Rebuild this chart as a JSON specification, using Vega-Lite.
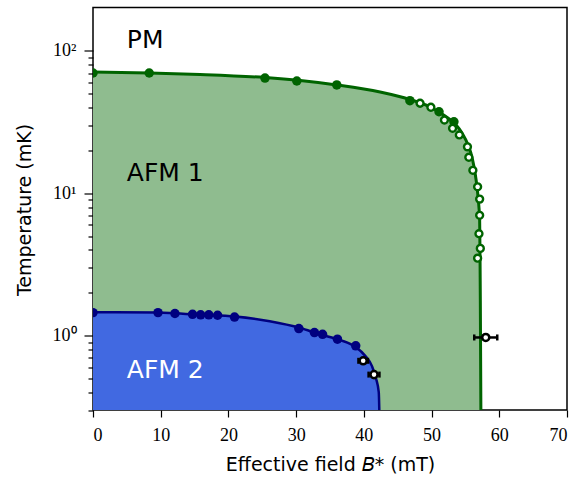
{
  "$schema": "https://vega.github.io/schema/vega-lite/v6.json",
  "width": 474,
  "height": 402.5,
  "autosize": {"type": "none"},
  "padding": {"left": 93, "top": 7.5, "right": 12, "bottom": 69},
  "background": "white",
  "config": {
    "view": {"stroke": "black", "strokeWidth": 1.5},
    "axis": {
      "domain": false, "grid": false,
      "tickColor": "black", "tickWidth": 1.2,
      "labelFont": "Liberation Serif", "labelFontSize": 18, "labelColor": "black",
      "titleFont": "DejaVu Sans", "titleFontSize": 19, "titleFontWeight": "normal", "titleColor": "black"
    }
  },
  "datasets": {
    "green_curve": [
      {"B": 0, "T": 71.1}, {"B": 8.3, "T": 70.0}, {"B": 15.8, "T": 68.4}, {"B": 25.4, "T": 65.1},
      {"B": 30.6, "T": 62.0}, {"B": 36.0, "T": 57.7}, {"B": 42.4, "T": 51.5}, {"B": 46.8, "T": 45.6},
      {"B": 49.8, "T": 40.4}, {"B": 52.0, "T": 34.9}, {"B": 53.5, "T": 30.7}, {"B": 54.5, "T": 26.5},
      {"B": 55.4, "T": 21.8}, {"B": 56.0, "T": 17.7}, {"B": 56.4, "T": 14.1}, {"B": 56.7, "T": 11.2},
      {"B": 56.9, "T": 9.0}, {"B": 57.1, "T": 6.5}, {"B": 57.15, "T": 4.0}, {"B": 57.2, "T": 1.77},
      {"B": 57.3, "T": 0.2}
    ],
    "blue_curve": [
      {"B": 0, "T": 1.46}, {"B": 9.6, "T": 1.45}, {"B": 15.8, "T": 1.40}, {"B": 21.0, "T": 1.36},
      {"B": 26.1, "T": 1.26}, {"B": 30.6, "T": 1.13}, {"B": 33.5, "T": 1.02}, {"B": 36.5, "T": 0.93},
      {"B": 38.8, "T": 0.83}, {"B": 40.2, "T": 0.72}, {"B": 41.2, "T": 0.61}, {"B": 41.8, "T": 0.50},
      {"B": 42.2, "T": 0.40}, {"B": 42.35, "T": 0.2}
    ],
    "green_filled": [
      {"B": 0, "T": 70}, {"B": 8.3, "T": 70}, {"B": 25.4, "T": 64.5}, {"B": 30.1, "T": 61.5},
      {"B": 36.0, "T": 57.7}, {"B": 46.8, "T": 44.7}, {"B": 51.1, "T": 37.4}, {"B": 53.3, "T": 31.8}
    ],
    "green_open": [
      {"B": 48.3, "T": 42.9}, {"B": 49.9, "T": 40.2}, {"B": 51.9, "T": 32.7}, {"B": 53.1, "T": 28.6},
      {"B": 54.1, "T": 25.7}, {"B": 55.3, "T": 21.2}, {"B": 55.5, "T": 17.9}, {"B": 56.1, "T": 14.5},
      {"B": 56.8, "T": 11.1}, {"B": 57.1, "T": 9.1}, {"B": 57.1, "T": 7.0}, {"B": 57.0, "T": 5.2},
      {"B": 57.2, "T": 4.1}, {"B": 56.8, "T": 3.5}
    ],
    "blue_filled": [
      {"B": 0, "T": 1.45}, {"B": 9.6, "T": 1.45}, {"B": 12.1, "T": 1.43}, {"B": 14.7, "T": 1.41},
      {"B": 15.9, "T": 1.40}, {"B": 17.1, "T": 1.40}, {"B": 18.4, "T": 1.39}, {"B": 20.9, "T": 1.35},
      {"B": 30.4, "T": 1.12}, {"B": 32.7, "T": 1.05}, {"B": 33.9, "T": 1.02}, {"B": 36.1, "T": 0.944},
      {"B": 38.8, "T": 0.847}
    ],
    "err_pts": [
      {"B": 39.9, "lo": 39.2, "hi": 40.6, "T": 0.665},
      {"B": 41.5, "lo": 40.7, "hi": 42.3, "T": 0.532},
      {"B": 58.0, "lo": 56.3, "hi": 59.7, "T": 0.97}
    ],
    "labels": [
      {"B": 5.0, "T": 119, "label": "PM"},
      {"B": 5.0, "T": 13.9, "label": "AFM 1"},
      {"B": 5.0, "T": 0.572, "label": "AFM 2"}
    ]
  },
  "layer": [
    {
      "data": {"name": "green_curve"},
      "mark": {"type": "area", "color": "#8fbc8f", "interpolate": "monotone", "clip": true},
      "encoding": {
        "x": {"field": "B", "type": "quantitative",
          "scale": {"domain": [0, 70], "nice": false},
          "axis": {"values": [0, 10, 20, 30, 40, 50, 60, 70], "tickSize": 7, "labelPadding": 9,
            "title": "Effective field 𝐵* (mT)", "titleY": 45}},
        "y": {"field": "T", "type": "quantitative",
          "scale": {"type": "log", "domain": [0.3, 202], "nice": false},
          "axis": {
            "values": [0.3, 0.4, 0.5, 0.6, 0.7, 0.8, 0.9, 1, 2, 3, 4, 5, 6, 7, 8, 9, 10, 20, 30, 40, 50, 60, 70, 80, 90, 100],
            "labelExpr": "datum.value == 1 ? '10⁰' : datum.value == 10 ? '10¹' : datum.value == 100 ? '10²' : ''",
            "tickSize": {"condition": {"test": "datum.value == 1 || datum.value == 10 || datum.value == 100", "value": 9}, "value": 5},
            "labelPadding": 8,
            "title": "Temperature (mK)", "titleX": -59, "titleY": 202}},
        "y2": {"datum": 0.1}
      }
    },
    {
      "data": {"name": "blue_curve"},
      "mark": {"type": "area", "color": "#4169e1", "interpolate": "monotone", "clip": true},
      "encoding": {
        "x": {"field": "B", "type": "quantitative"},
        "y": {"field": "T", "type": "quantitative"},
        "y2": {"datum": 0.1}
      }
    },
    {
      "data": {"name": "green_curve"},
      "mark": {"type": "line", "color": "#006400", "strokeWidth": 3, "interpolate": "monotone", "clip": true},
      "encoding": {
        "x": {"field": "B", "type": "quantitative"},
        "y": {"field": "T", "type": "quantitative"}
      }
    },
    {
      "data": {"name": "blue_curve"},
      "mark": {"type": "line", "color": "#000080", "strokeWidth": 2.5, "interpolate": "monotone", "clip": true},
      "encoding": {
        "x": {"field": "B", "type": "quantitative"},
        "y": {"field": "T", "type": "quantitative"}
      }
    },
    {
      "data": {"name": "green_filled"},
      "mark": {"type": "point", "filled": true, "color": "#006400", "size": 90, "opacity": 1, "clip": true},
      "encoding": {
        "x": {"field": "B", "type": "quantitative"},
        "y": {"field": "T", "type": "quantitative"}
      }
    },
    {
      "data": {"name": "green_open"},
      "mark": {"type": "point", "filled": false, "fill": "white", "fillOpacity": 1, "stroke": "#006400", "strokeWidth": 2.4, "size": 48, "opacity": 1},
      "encoding": {
        "x": {"field": "B", "type": "quantitative"},
        "y": {"field": "T", "type": "quantitative"}
      }
    },
    {
      "data": {"name": "blue_filled"},
      "mark": {"type": "point", "filled": true, "color": "#000080", "size": 90, "opacity": 1, "clip": true},
      "encoding": {
        "x": {"field": "B", "type": "quantitative"},
        "y": {"field": "T", "type": "quantitative"}
      }
    },
    {
      "data": {"name": "err_pts"},
      "mark": {"type": "rule", "color": "black", "strokeWidth": 2.5},
      "encoding": {
        "x": {"field": "lo", "type": "quantitative"},
        "x2": {"field": "hi"},
        "y": {"field": "T", "type": "quantitative"}
      }
    },
    {
      "data": {"name": "err_pts"},
      "mark": {"type": "tick", "orient": "vertical", "color": "black", "size": 6, "thickness": 2.5, "opacity": 1},
      "encoding": {
        "x": {"field": "lo", "type": "quantitative"},
        "y": {"field": "T", "type": "quantitative"}
      }
    },
    {
      "data": {"name": "err_pts"},
      "mark": {"type": "tick", "orient": "vertical", "color": "black", "size": 6, "thickness": 2.5, "opacity": 1},
      "encoding": {
        "x": {"field": "hi", "type": "quantitative"},
        "y": {"field": "T", "type": "quantitative"}
      }
    },
    {
      "data": {"name": "err_pts"},
      "mark": {"type": "point", "filled": false, "fill": "white", "fillOpacity": 1, "stroke": "black", "strokeWidth": 2.5, "size": 50, "opacity": 1},
      "encoding": {
        "x": {"field": "B", "type": "quantitative"},
        "y": {"field": "T", "type": "quantitative"}
      }
    },
    {
      "data": {"name": "labels"},
      "mark": {"type": "text", "align": "left", "baseline": "middle", "font": "DejaVu Sans", "fontSize": 25},
      "encoding": {
        "x": {"field": "B", "type": "quantitative"},
        "y": {"field": "T", "type": "quantitative"},
        "text": {"field": "label"},
        "color": {"condition": {"test": "datum.label == 'AFM 2'", "value": "white"}, "value": "black"}
      }
    }
  ]
}
